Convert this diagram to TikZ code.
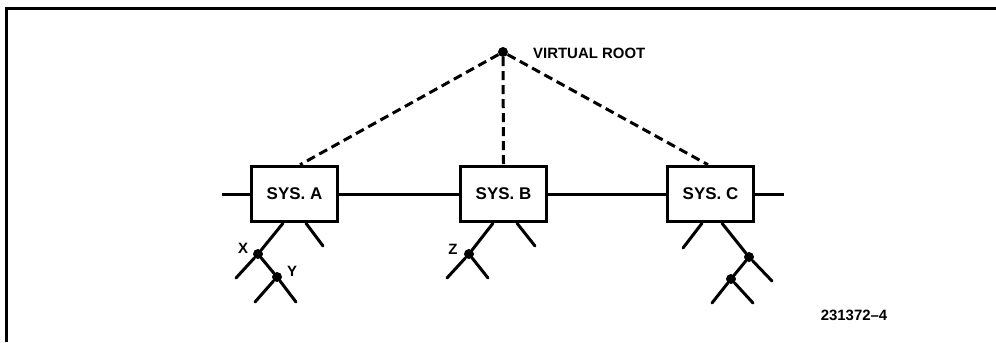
\documentclass[tikz,border=0pt]{standalone}
\usepackage{fontspec}
\setmainfont{Liberation Sans}
\usepackage{tikz}
\usetikzlibrary{positioning,calc}
\tikzset{
  sysbox/.style={
    rectangle,
    draw=black,
    fill=white,
    line width=3.5bp,
    minimum width=86bp,
    minimum height=55bp,
    inner sep=0pt,
    font=\fontsize{17}{19}\selectfont\bfseries
  },
  dot/.style={circle, fill=black, inner sep=0pt, minimum size=10bp},
  lbl/.style={inner sep=0pt, font=\fontsize{15}{17}\selectfont\bfseries},
  bus/.style={line width=3bp},
  branch/.style={line width=3bp, line cap=round},
  link/.style={line width=3bp, dash pattern=on 9bp off 5bp},
  frame/.style={line width=3bp}
}

\begin{document}
\begin{tikzpicture}[x=1bp, y=-1bp]
  \useasboundingbox (0,0) rectangle (996,342);
  \draw[frame] (6,342) -- (6,8) -- (996,8);

  % virtual root
  \node[dot] (root) at (503,52) {};
  \node[lbl, anchor=west] (rootlbl) at (533,53) {VIRTUAL ROOT};

  % systems on the bus
  \node[sysbox] (sysA) at (294.5,194) {SYS.\ A};
  \node[sysbox] (sysB) at (503.5,194) {SYS.\ B};
  \node[sysbox] (sysC) at (710.5,194) {SYS.\ C};
  \coordinate (busL) at (222,194);
  \coordinate (busR) at (784,194);

  \draw[bus] (busL) -- (sysA);
  \draw[bus] (sysA) -- (sysB);
  \draw[bus] (sysB) -- (sysC);
  \draw[bus] (sysC) -- (busR);

  \draw[link] (root) -- ([xshift=5.5bp]sysA.north);
  \draw[link] (root) -- (sysB.north);
  \draw[link] (root) -- ([xshift=-2.5bp]sysC.north);

  % trees below SYS. A
  \node[dot] (x) at (258,254) {};
  \node[dot] (y) at (277,277) {};
  \coordinate (x1) at (236,278);
  \coordinate (y1) at (255,302);
  \coordinate (y2) at (296,302);
  \coordinate (a2) at (323,246);
  \node[lbl] (xlbl) at (243,248) {X};
  \node[lbl] (ylbl) at (292,271) {Y};
  \draw[branch] ([xshift=-11.5bp]sysA.south) -- (x);
  \draw[branch] (x) -- (x1);
  \draw[branch] (x) -- (y);
  \draw[branch] (y) -- (y1);
  \draw[branch] (y) -- (y2);
  \draw[branch] ([xshift=11.5bp]sysA.south) -- (a2);

  % trees below SYS. B
  \node[dot] (z) at (469,254) {};
  \coordinate (z1) at (447,278);
  \coordinate (z2) at (488,278);
  \coordinate (b2) at (535,246);
  \node[lbl] (zlbl) at (453,249) {Z};
  \draw[branch] ([xshift=-10.5bp]sysB.south) -- (z);
  \draw[branch] (z) -- (z1);
  \draw[branch] (z) -- (z2);
  \draw[branch] ([xshift=13.5bp]sysB.south) -- (b2);

  % trees below SYS. C
  \node[dot] (c1) at (749,257) {};
  \node[dot] (c2) at (731,279) {};
  \coordinate (c0) at (683,248);
  \coordinate (c3) at (772,281);
  \coordinate (c4) at (712,303);
  \coordinate (c5) at (753,303);
  \draw[branch] ([xshift=-8.5bp]sysC.south) -- (c0);
  \draw[branch] ([xshift=11.5bp]sysC.south) -- (c1);
  \draw[branch] (c1) -- (c3);
  \draw[branch] (c1) -- (c2);
  \draw[branch] (c2) -- (c4);
  \draw[branch] (c2) -- (c5);

  \node[lbl] (fignum) at (854,315) {231372--4};
\end{tikzpicture}
\end{document}
